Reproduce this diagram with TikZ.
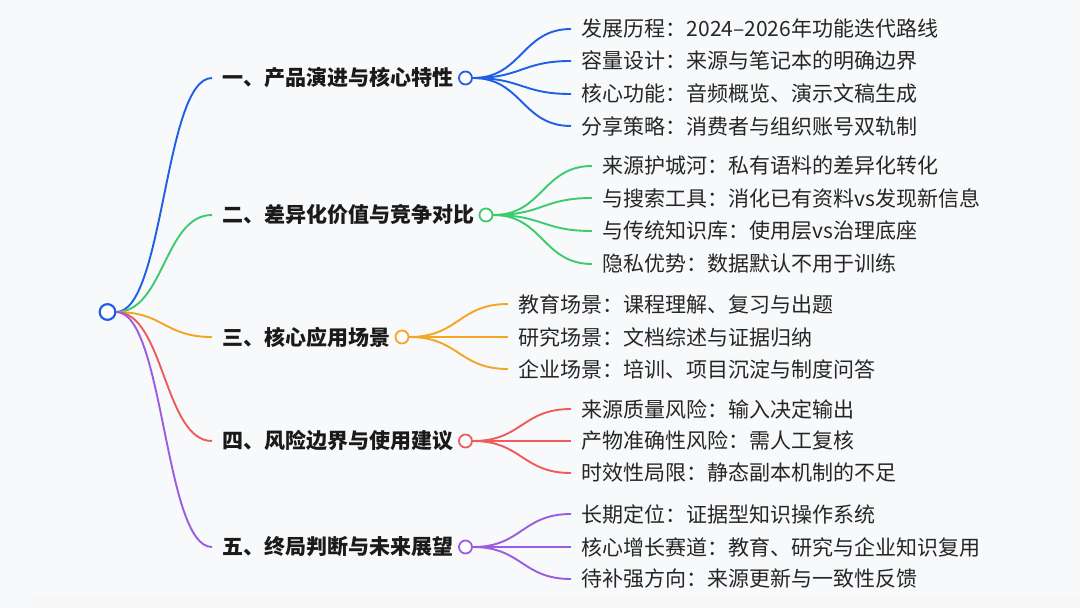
\documentclass[tikz,border=0pt]{standalone}
\usepackage{fontspec}
\setmainfont{Noto Sans CJK SC}
\usetikzlibrary{calc}
\definecolor{bgc}{HTML}{F7F9FB}
\definecolor{cblue}{HTML}{1F5FE6}
\definecolor{cgreen}{HTML}{3DCB6E}
\definecolor{corange}{HTML}{F5A524}
\definecolor{cred}{HTML}{EF5A5A}
\definecolor{cpurple}{HTML}{9B5DE0}
\definecolor{tdark}{HTML}{1A1A1A}
\definecolor{tleaf}{HTML}{262626}
\newcommand\mmlink[3]{\draw[linkline=#1] let \p1=(#2), \p2=(#3) in (\p1) .. controls ({0.5*\x1+0.5*\x2},\y1) and ({0.5*\x1+0.5*\x2},\y2) .. (\p2);}
\begin{document}
\begin{tikzpicture}[x=1pt,y=-1pt,
  rootdot/.style={circle,draw=cblue,line width=2pt,fill=white,minimum size=15.5pt,inner sep=0pt},
  dot/.style={circle,draw=#1,line width=1.8pt,fill=white,minimum size=13pt,inner sep=0pt},
  btext/.style={anchor=west,inner xsep=10pt,inner ysep=0pt,font=\fontsize{21}{25}\selectfont\bfseries,text=tdark},
  leaf/.style={anchor=west,inner xsep=10.5pt,inner ysep=0pt,font=\fontsize{21}{25}\selectfont,text=tleaf},
  linkline/.style={draw=#1,line width=1.9pt}]
\useasboundingbox (0,0) rectangle (1080,608);
\fill[bgc] (0,0) rectangle (1080,608);
\fill[black!3] (33,597) rectangle (1080,608);

% root
\node[rootdot] (r) at (107.5,312) {};

% branches
\node[btext] (b1) at (212,78) {一、产品演进与核心特性};
\node[btext] (b2) at (212,215) {二、差异化价值与竞争对比};
\node[btext] (b3) at (212,337) {三、核心应用场景};
\node[btext] (b4) at (212,441) {四、风险边界与使用建议};
\node[btext] (b5) at (212,547) {五、终局判断与未来展望};

\mmlink{cblue}{r.east}{b1.west}
\mmlink{cgreen}{r.east}{b2.west}
\mmlink{corange}{r.east}{b3.west}
\mmlink{cred}{r.east}{b4.west}
\mmlink{cpurple}{r.east}{b5.west}
\node[rootdot] at (r) {};

\node[dot=cblue] (d1) at (465.5,78) {};
\node[dot=cgreen] (d2) at (486,215) {};
\node[dot=corange] (d3) at (402,337) {};
\node[dot=cred] (d4) at (465.5,441) {};
\node[dot=cpurple] (d5) at (465.5,547) {};

% leaves branch 1
\node[leaf] (l11) at (571,29) {发展历程：2024–2026年功能迭代路线};
\node[leaf] (l12) at (571,61) {容量设计：来源与笔记本的明确边界};
\node[leaf] (l13) at (571,94) {核心功能：音频概览、演示文稿生成};
\node[leaf] (l14) at (571,126) {分享策略：消费者与组织账号双轨制};
% leaves branch 2
\node[leaf] (l21) at (592,166) {来源护城河：私有语料的差异化转化};
\node[leaf] (l22) at (592,198) {与搜索工具：消化已有资料vs发现新信息};
\node[leaf] (l23) at (592,231) {与传统知识库：使用层vs治理底座};
\node[leaf] (l24) at (592,264) {隐私优势：数据默认不用于训练};
% leaves branch 3
\node[leaf] (l31) at (508,304) {教育场景：课程理解、复习与出题};
\node[leaf] (l32) at (508,337) {研究场景：文档综述与证据归纳};
\node[leaf] (l33) at (508,369) {企业场景：培训、项目沉淀与制度问答};
% leaves branch 4
\node[leaf] (l41) at (571,409) {来源质量风险：输入决定输出};
\node[leaf] (l42) at (571,441) {产物准确性风险：需人工复核};
\node[leaf] (l43) at (571,473) {时效性局限：静态副本机制的不足};
% leaves branch 5
\node[leaf] (l51) at (571,514) {长期定位：证据型知识操作系统};
\node[leaf] (l52) at (571,547) {核心增长赛道：教育、研究与企业知识复用};
\node[leaf] (l53) at (571,579) {待补强方向：来源更新与一致性反馈};

\foreach \i in {1,2,3,4}{\mmlink{cblue}{d1.east}{l1\i.west}}
\foreach \i in {1,2,3,4}{\mmlink{cgreen}{d2.east}{l2\i.west}}
\foreach \i in {1,2,3}{\mmlink{corange}{d3.east}{l3\i.west}}
\foreach \i in {1,2,3}{\mmlink{cred}{d4.east}{l4\i.west}}
\foreach \i in {1,2,3}{\mmlink{cpurple}{d5.east}{l5\i.west}}
\end{tikzpicture}
\end{document}
